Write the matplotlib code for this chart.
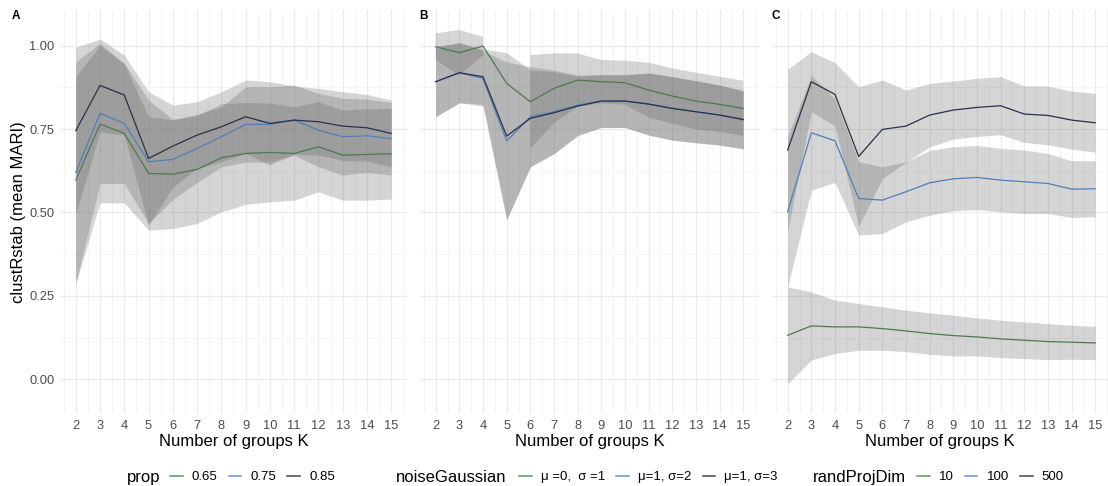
import numpy as np
import matplotlib.pyplot as plt
from matplotlib.lines import Line2D

plt.rcParams['font.family'] = ['Liberation Sans', 'DejaVu Sans']

K = list(range(2, 16))

# panel A - prop
prop_labels = ['0.65', '0.75', '0.85']
prop065_mean = [0.597, 0.765, 0.737, 0.617, 0.615, 0.629, 0.664, 0.677, 0.680, 0.677, 0.697, 0.672, 0.674, 0.676]
prop065_sd = [0.31, 0.236, 0.208, 0.17, 0.163, 0.162, 0.162, 0.153, 0.148, 0.14, 0.135, 0.135, 0.137, 0.136]
prop075_mean = [0.620, 0.797, 0.767, 0.652, 0.659, 0.692, 0.727, 0.764, 0.764, 0.777, 0.747, 0.727, 0.730, 0.721]
prop075_sd = [0.332, 0.21, 0.18, 0.185, 0.12, 0.102, 0.09, 0.113, 0.113, 0.105, 0.11, 0.115, 0.11, 0.109]
prop085_mean = [0.745, 0.881, 0.852, 0.662, 0.699, 0.732, 0.757, 0.787, 0.767, 0.777, 0.772, 0.759, 0.754, 0.737]
prop085_sd = [0.25, 0.139, 0.12, 0.2, 0.123, 0.1, 0.105, 0.11, 0.125, 0.102, 0.1, 0.103, 0.1, 0.1]

# panel B - noiseGaussian (sd missing at K=5 for the first setting)
noise_labels = ['\u03bc =0,  \u03c3 =1', '\u03bc=1, \u03c3=2', '\u03bc=1, \u03c3=3']
noise_m0s1_mean = [0.997, 0.979, 0.999, 0.887, 0.832, 0.872, 0.897, 0.892, 0.889, 0.867, 0.849, 0.834, 0.824, 0.812]
noise_m0s1_sd = [0.04, 0.068, 0.028, np.nan, 0.14, 0.105, 0.08, 0.065, 0.066, 0.082, 0.083, 0.085, 0.083, 0.083]
noise_m1s2_mean = [0.892, 0.919, 0.902, 0.714, 0.787, 0.802, 0.822, 0.834, 0.834, 0.825, 0.812, 0.802, 0.792, 0.777]
noise_m1s2_sd = [0.105, 0.09, 0.083, 0.237, 0.15, 0.125, 0.09, 0.079, 0.079, 0.093, 0.095, 0.093, 0.09, 0.087]
noise_m1s3_mean = [0.892, 0.919, 0.907, 0.729, 0.782, 0.799, 0.819, 0.834, 0.834, 0.825, 0.812, 0.802, 0.792, 0.779]
noise_m1s3_sd = [0.105, 0.09, 0.083, 0.25, 0.145, 0.123, 0.09, 0.079, 0.079, 0.093, 0.095, 0.093, 0.09, 0.087]

# panel C - randProjDim
rp_labels = ['10', '100', '500']
rp10_mean = [0.132, 0.160, 0.157, 0.157, 0.152, 0.145, 0.137, 0.131, 0.127, 0.121, 0.117, 0.113, 0.111, 0.109]
rp10_sd = [0.145, 0.102, 0.08, 0.07, 0.065, 0.062, 0.062, 0.061, 0.057, 0.056, 0.055, 0.054, 0.051, 0.05]
rp100_mean = [0.502, 0.739, 0.715, 0.542, 0.537, 0.562, 0.589, 0.601, 0.605, 0.597, 0.592, 0.587, 0.570, 0.571]
rp100_sd = [0.225, 0.172, 0.125, 0.11, 0.1, 0.09, 0.097, 0.096, 0.096, 0.095, 0.095, 0.09, 0.085, 0.084]
rp500_mean = [0.687, 0.892, 0.854, 0.668, 0.749, 0.759, 0.792, 0.807, 0.815, 0.820, 0.795, 0.791, 0.777, 0.769]
rp500_sd = [0.242, 0.09, 0.095, 0.209, 0.148, 0.108, 0.095, 0.087, 0.087, 0.087, 0.085, 0.088, 0.087, 0.088]

colors = ['#4d7a4d', '#4f7fb8', '#2b3048']
key_colors = ['#5f925f', '#6596d0', '#3c4360']
tick_grey = '#4d4d4d'

W, H = 1108, 486
fig = plt.figure(figsize=(W / 100, H / 100), dpi=100)

y_bot, y_top = 413.3, 10
panels = [
    ('A', 60, 407, (1.35, 15.65), [(prop065_mean, prop065_sd), (prop075_mean, prop075_sd), (prop085_mean, prop085_sd)]),
    ('B', 420.3, 758.7, (1.35, 15.65), [(noise_m0s1_mean, noise_m0s1_sd), (noise_m1s2_mean, noise_m1s2_sd), (noise_m1s3_mean, noise_m1s3_sd)]),
    ('C', 772.3, 1108, (1.35, 15.54), [(rp10_mean, rp10_sd), (rp100_mean, rp100_sd), (rp500_mean, rp500_sd)]),
]

axes = []
for letter, x0, x1, xl, series in panels:
    ax = fig.add_axes([x0 / W, (H - y_bot) / H, (x1 - x0) / W, (y_bot - y_top) / H])
    for (m, s), c in zip(series, colors):
        m = np.array(m)
        s = np.array(s)
        ax.fill_between(K, m - s, m + s, color='#595959', alpha=0.25, linewidth=0, zorder=2)
    for (m, s), c in zip(series, colors):
        ax.plot(K, m, color=c, lw=0.9, zorder=3)
    ax.set_xlim(*xl)
    ax.set_ylim(-0.102, 1.107)
    ax.set_xticks(K)
    ax.set_xticks(np.arange(1.5, 16, 1), minor=True)
    ax.set_yticks([0, 0.25, 0.5, 0.75, 1.0])
    ax.set_yticks([0.125, 0.375, 0.625, 0.875], minor=True)
    ax.set_yticklabels(['0.00', '0.25', '0.50', '0.75', '1.00'])
    ax.grid(which='major', color='#ebebeb', lw=0.9, zorder=0)
    ax.grid(which='minor', color='#f3f3f3', lw=0.6, zorder=0)
    ax.set_axisbelow(True)
    for sp in ax.spines.values():
        sp.set_visible(False)
    ax.tick_params(which='both', length=0)
    ax.tick_params(axis='x', labelsize=9.3, labelcolor=tick_grey, pad=5)
    ax.tick_params(axis='y', labelsize=9.3, labelcolor=tick_grey, pad=4)
    if letter != 'A':
        ax.tick_params(axis='y', labelleft=False)
    ax.set_xlabel('Number of groups K', fontsize=12, labelpad=1)
    fig.text((x0 - 48 if letter == 'A' else x0 - 1) / W, (H - 16) / H, letter,
             fontsize=8.5, fontweight='bold', va='center', ha='left')
    axes.append(ax)

axes[0].set_ylabel('clustRstab (mean MARI)', fontsize=12, va='center')
axes[0].yaxis.set_label_coords(-0.121, 0.5)

# legends below each panel, title inline on the left
legend_specs = [
    ('prop', 127, 170, prop_labels),
    ('noiseGaussian', 396, 519, noise_labels),
    ('randProjDim', 813, 917, rp_labels),
]
ly = (H - 477) / H
for title, tx, kx, labels in legend_specs:
    fig.text(tx / W, ly, title, fontsize=12, va='center', ha='left')
    handles = [Line2D([], [], color=c, lw=1.1) for c in key_colors]
    fig.legend(handles, labels, loc='center left', bbox_to_anchor=(kx / W, ly),
               bbox_transform=fig.transFigure, ncol=3, frameon=False, fontsize=9.5,
               handlelength=0.95, handletextpad=0.7, columnspacing=0.85,
               borderpad=0, borderaxespad=0)

fig.savefig('out.png', dpi=100)
